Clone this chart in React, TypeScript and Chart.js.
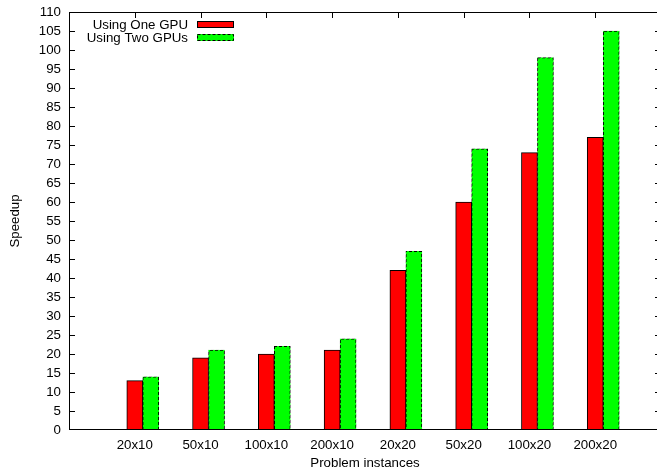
import React, { useEffect, useRef } from 'react';
import { Chart, registerables } from 'chart.js';

Chart.register(...registerables);

const categories = ['20x10', '50x10', '100x10', '200x10', '20x20', '50x20', '100x20', '200x20'];
const oneGpu = [13, 19, 20, 21, 42, 60, 73, 77];
const twoGpus = [14, 21, 22, 24, 47, 74, 98, 105];
const seriesNames = ['Using One GPU', 'Using Two GPUs'];
const yMin = 0;
const yMax = 110;
const yStep = 5;
const xTitle = 'Problem instances';
const yTitle = 'Speedup';

const FONT = '"Liberation Sans", Arial, Helvetica, sans-serif';
const FONT_SIZE = 13.3;

export default function App() {
  const ref = useRef<HTMLCanvasElement>(null);

  useEffect(() => {
    document.body.style.margin = '0';
    const canvas = ref.current!;

    // dashed border pattern (black dashes over green)
    const pc = document.createElement('canvas');
    pc.width = 5;
    pc.height = 5;
    const pctx = pc.getContext('2d')!;
    for (let x = 0; x < 5; x++) {
      for (let y = 0; y < 5; y++) {
        pctx.fillStyle = (x + y) % 5 < 3 ? '#000000' : '#00ff00';
        pctx.fillRect(x, y, 1, 1);
      }
    }
    const dash = canvas.getContext('2d')!.createPattern(pc, 'repeat')!;

    const labels = ['', ...categories, ''];
    const pad = (arr: number[]) => [null, ...arr, null];

    const ticksPlugin = {
      id: 'gnuTicks',
      beforeDatasetsDraw(chart: any) {
        const { ctx, chartArea: a, scales } = chart;
        const L = Math.round(a.left);
        const R = Math.round(a.right);
        const T = Math.round(a.top);
        const B = Math.round(a.bottom);
        ctx.save();
        ctx.strokeStyle = '#000';
        ctx.lineWidth = 1;
        ctx.beginPath();
        scales.y.ticks.forEach((t: any) => {
          if (t.value <= yMin || t.value >= yMax) return;
          const y = Math.round(scales.y.getPixelForValue(t.value)) + 0.5;
          ctx.moveTo(L, y);
          ctx.lineTo(L + 6, y);
          ctx.moveTo(R, y);
          ctx.lineTo(R - 6, y);
        });
        for (let i = 1; i <= categories.length; i++) {
          const x = Math.round(scales.x.getPixelForValue(i)) + 0.5;
          ctx.moveTo(x, T);
          ctx.lineTo(x, T + 6);
          ctx.moveTo(x, B);
          ctx.lineTo(x, B - 6);
        }
        ctx.stroke();
        ctx.restore();
      },
      afterDatasetsDraw(chart: any) {
        const { ctx, chartArea: a } = chart;
        const L = Math.round(a.left) + 0.5;
        const R = Math.round(a.right) - 0.5;
        const T = Math.round(a.top) + 0.5;
        const B = Math.round(a.bottom) - 0.5;
        ctx.save();
        ctx.strokeStyle = '#000';
        ctx.lineWidth = 1;
        ctx.strokeRect(L, T, R - L, B - T);
        ctx.restore();
      },
      afterDraw(chart: any) {
        const { ctx } = chart;
        ctx.save();
        ctx.font = FONT_SIZE + 'px ' + FONT;
        ctx.fillStyle = '#000';
        ctx.textAlign = 'right';
        ctx.textBaseline = 'alphabetic';
        ctx.fillText(seriesNames[0], 188, 29);
        ctx.fillText(seriesNames[1], 188, 42);
        // red sample
        ctx.fillStyle = '#ff0000';
        ctx.fillRect(197, 21, 37, 7);
        ctx.strokeStyle = '#000';
        ctx.lineWidth = 1;
        ctx.strokeRect(197.5, 21.5, 36, 6);
        // green sample
        ctx.fillStyle = '#00ff00';
        ctx.fillRect(197, 34, 37, 7);
        ctx.setLineDash([3, 2]);
        ctx.strokeRect(197.5, 34.5, 36, 6);
        ctx.restore();
      },
    };

    const tickFont = { family: FONT, size: FONT_SIZE };

    const chart = new Chart(canvas, {
      type: 'bar',
      data: {
        labels,
        datasets: [
          {
            label: '',
            data: labels.map(() => null),
            backgroundColor: 'rgba(0,0,0,0)',
            borderWidth: 0,
            barThickness: 16,
          },
          {
            label: seriesNames[0],
            data: pad(oneGpu),
            backgroundColor: '#ff0000',
            borderColor: '#000000',
            borderWidth: 1,
            barThickness: 16,
          },
          {
            label: seriesNames[1],
            data: pad(twoGpus),
            backgroundColor: '#00ff00',
            borderColor: dash as any,
            hoverBorderColor: dash as any,
            borderWidth: 1,
            barThickness: 16,
          },
        ],
      },
      options: {
        animation: false,
        responsive: false,
        devicePixelRatio: 1,
        events: [],
        layout: { padding: { left: 7, top: 12, right: 4, bottom: 0 } },
        plugins: {
          legend: { display: false },
          tooltip: { enabled: false },
        },
        scales: {
          x: {
            type: 'category',
            offset: false,
            grid: { display: false, drawTicks: false },
            border: { display: false },
            ticks: {
              color: '#000',
              font: tickFont,
              padding: 7,
              autoSkip: false,
              maxRotation: 0,
              minRotation: 0,
            },
            title: {
              display: true,
              text: xTitle,
              color: '#000',
              font: tickFont,
              padding: { top: 0, bottom: -2 },
            },
            afterFit: (s: any) => {
              s.height = 39;
              s.paddingLeft = 0;
              s.paddingRight = 0;
            },
          },
          y: {
            type: 'linear',
            min: yMin,
            max: yMax,
            grid: { display: false, drawTicks: false },
            border: { display: false },
            ticks: {
              stepSize: yStep,
              autoSkip: false,
              color: '#000',
              font: tickFont,
              padding: 8,
            },
            title: {
              display: true,
              text: yTitle,
              color: '#000',
              font: tickFont,
              padding: { top: 0, bottom: 0 },
            },
            afterFit: (s: any) => {
              s.width = 62;
              s.paddingTop = 0;
              s.paddingBottom = 0;
            },
          },
        },
      },
      plugins: [ticksPlugin],
    } as any);

    return () => chart.destroy();
  }, []);

  return (
    <div style={{ width: 657, height: 469, overflow: 'hidden' }}>
      <canvas ref={ref} width={665} height={469} style={{ display: 'block', width: 665, height: 469 }} />
    </div>
  );
}
